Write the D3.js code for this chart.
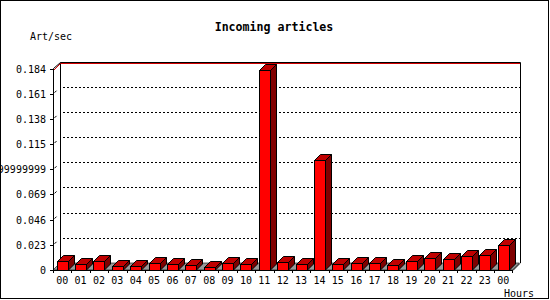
<!DOCTYPE html>
<html>
<head>
<meta charset="utf-8">
<script src="https://cdn.jsdelivr.net/npm/d3@7"></script>
<style>
  body { margin: 0; background: #fff; }
  text { font-family: "DejaVu Sans Mono", monospace; fill: #000; }
</style>
</head>
<body>
<svg class="chart" width="550" height="300"></svg>
<script>
var hours = ['00','01','02','03','04','05','06','07','08','09','10','11',
             '12','13','14','15','16','17','18','19','20','21','22','23','00'];
var artPerSec = [0.0085, 0.0052, 0.008, 0.0034, 0.0034, 0.0061, 0.0052, 0.0043,
                 0.0025, 0.0061, 0.0052, 0.183, 0.007, 0.0052, 0.1007, 0.0052,
                 0.0061, 0.0061, 0.0043, 0.008, 0.0107, 0.0098, 0.0125, 0.0135, 0.0226];
var yTicks = [0, 0.023, 0.046, 0.069, 0.092, 0.115, 0.138, 0.161, 0.184];
var yTickLabels = ['0', '0.023', '0.046', '0.069', '0.09199999999', '0.115', '0.138', '0.161', '0.184'];

// front plane of the plot, the back wall sits depth px up and right
var plotLeft = 53, plotRight = 512.4, plotBottom = 270, plotTop = 68.5,
  depth = 7, barDepth = 6, barWidth = 11;

var x = d3.scaleBand()
  .domain(d3.range(hours.length))
  .range([plotLeft, plotRight]);

var y = d3.scaleLinear()
  .domain([0, 0.184])
  .range([plotBottom, plotTop]);

var svg = d3.select('.chart');
var line = d3.line();

svg.append('rect')
  .attr('x', 0.5).attr('y', 0.5)
  .attr('width', 548).attr('height', 298)
  .attr('fill', '#fff').attr('stroke', '#000');

// back wall
var bx0 = plotLeft + depth, bx1 = plotRight + depth + 0.6,
  by0 = Math.round(y(0.184) - depth), by1 = plotBottom - depth;
svg.append('path')
  .attr('d', line([[bx0 + 0.5, by1], [bx0 + 0.5, by0 + 0.5], [bx1 + 0.5, by0 + 0.5], [bx1 + 0.5, by1]]))
  .attr('fill', 'none').attr('stroke', '#000');

// dotted grid on the back wall plus small stubs near the front axis
var grid = svg.append('g');
yTicks.slice(1, -1).forEach(function(t) {
  var yy = Math.round(y(t) - depth) + 0.5;
  grid.append('line')
    .attr('x1', bx0 + 3).attr('x2', bx1)
    .attr('y1', yy).attr('y2', yy)
    .attr('stroke', '#000').attr('stroke-dasharray', '2,2');
  grid.append('line')
    .attr('x1', plotLeft + 1.5).attr('y1', y(t) - 1)
    .attr('x2', plotLeft + 3.5).attr('y2', y(t) - 3)
    .attr('stroke', '#000');
});

// max value line
var maxY = Math.round(y(d3.max(artPerSec))) + 0.5;
svg.append('path')
  .attr('d', line([[plotLeft + 0.5, maxY], [bx0 + 0.5, maxY - depth], [bx1, maxY - depth]]))
  .attr('fill', 'none').attr('stroke', '#d00000');

// grey floor
svg.append('path')
  .attr('d', line([[plotLeft, plotBottom], [plotRight, plotBottom], [plotRight + depth, plotBottom - depth], [plotLeft + depth, plotBottom - depth]]) + 'Z')
  .attr('fill', '#999').attr('stroke', '#000').attr('stroke-width', 0.6);

// 3d bars
var bars = svg.selectAll('.bar')
  .data(artPerSec)
  .enter()
  .append('g')
  .attr('class', 'bar');

function bx(d, i) { return Math.round(x(i) + x.bandwidth() / 2 - barWidth / 2) + 0.5; }
function bt(d) { return Math.round(y(d)) + 0.5; }

bars.append('path')
  .attr('d', function(d, i) {
    var x0 = bx(d, i), x1 = x0 + barWidth, t = bt(d);
    return line([[x1, t], [x1 + barDepth, t - barDepth], [x1 + barDepth, plotBottom - barDepth], [x1, plotBottom]]) + 'Z';
  })
  .attr('fill', '#800000').attr('stroke', '#000');

bars.append('path')
  .attr('d', function(d, i) {
    var x0 = bx(d, i), x1 = x0 + barWidth, t = bt(d);
    return line([[x0, t], [x0 + barDepth, t - barDepth], [x1 + barDepth, t - barDepth], [x1, t]]) + 'Z';
  })
  .attr('fill', '#c00000').attr('stroke', '#000');

bars.append('rect')
  .attr('x', bx)
  .attr('y', bt)
  .attr('width', barWidth)
  .attr('height', function(d) { return plotBottom + 0.5 - bt(d); })
  .attr('fill', '#ff0000').attr('stroke', '#000');

// front axes
svg.append('path')
  .attr('d', line([[bx0 + 0.5, by0 + 0.5], [plotLeft + 0.5, y(0.184)], [plotLeft + 0.5, plotBottom + 0.5],
    [plotRight + 0.5, plotBottom + 0.5], [plotRight + depth + 0.5, plotBottom - depth + 0.5]]))
  .attr('fill', 'none').attr('stroke', '#000');

var yAxis = svg.append('g');
yTicks.forEach(function(t, i) {
  var yy = Math.round(y(t)) + 0.5;
  yAxis.append('line')
    .attr('x1', plotLeft - 3).attr('x2', plotLeft)
    .attr('y1', yy).attr('y2', yy)
    .attr('stroke', '#000');
  yAxis.append('text')
    .attr('x', plotLeft - 7).attr('y', yy + 3)
    .attr('text-anchor', 'end')
    .attr('font-size', '10px')
    .text(yTickLabels[i]);
});

var xAxis = svg.append('g');
d3.range(hours.length + 1).forEach(function(i) {
  var xx = Math.round(plotLeft + i * x.step()) + 0.5;
  xAxis.append('line')
    .attr('x1', xx).attr('x2', xx)
    .attr('y1', plotBottom).attr('y2', plotBottom + 3)
    .attr('stroke', '#000');
});
xAxis.selectAll('text')
  .data(hours)
  .enter()
  .append('text')
  .attr('x', function(d, i) { return x(i) + x.bandwidth() / 2; })
  .attr('y', 283.5)
  .attr('text-anchor', 'middle')
  .attr('font-size', '10px')
  .text(function(d) { return d; });

svg.append('text')
  .attr('x', 274).attr('y', 31)
  .attr('text-anchor', 'middle')
  .attr('font-size', '11.6px')
  .attr('font-weight', 'bold')
  .text('Incoming articles');

svg.append('text')
  .attr('x', 30).attr('y', 40)
  .attr('font-size', '10px')
  .text('Art/sec');

svg.append('text')
  .attr('x', 504).attr('y', 296.5)
  .attr('font-size', '10px')
  .text('Hours');
</script>
</body>
</html>
